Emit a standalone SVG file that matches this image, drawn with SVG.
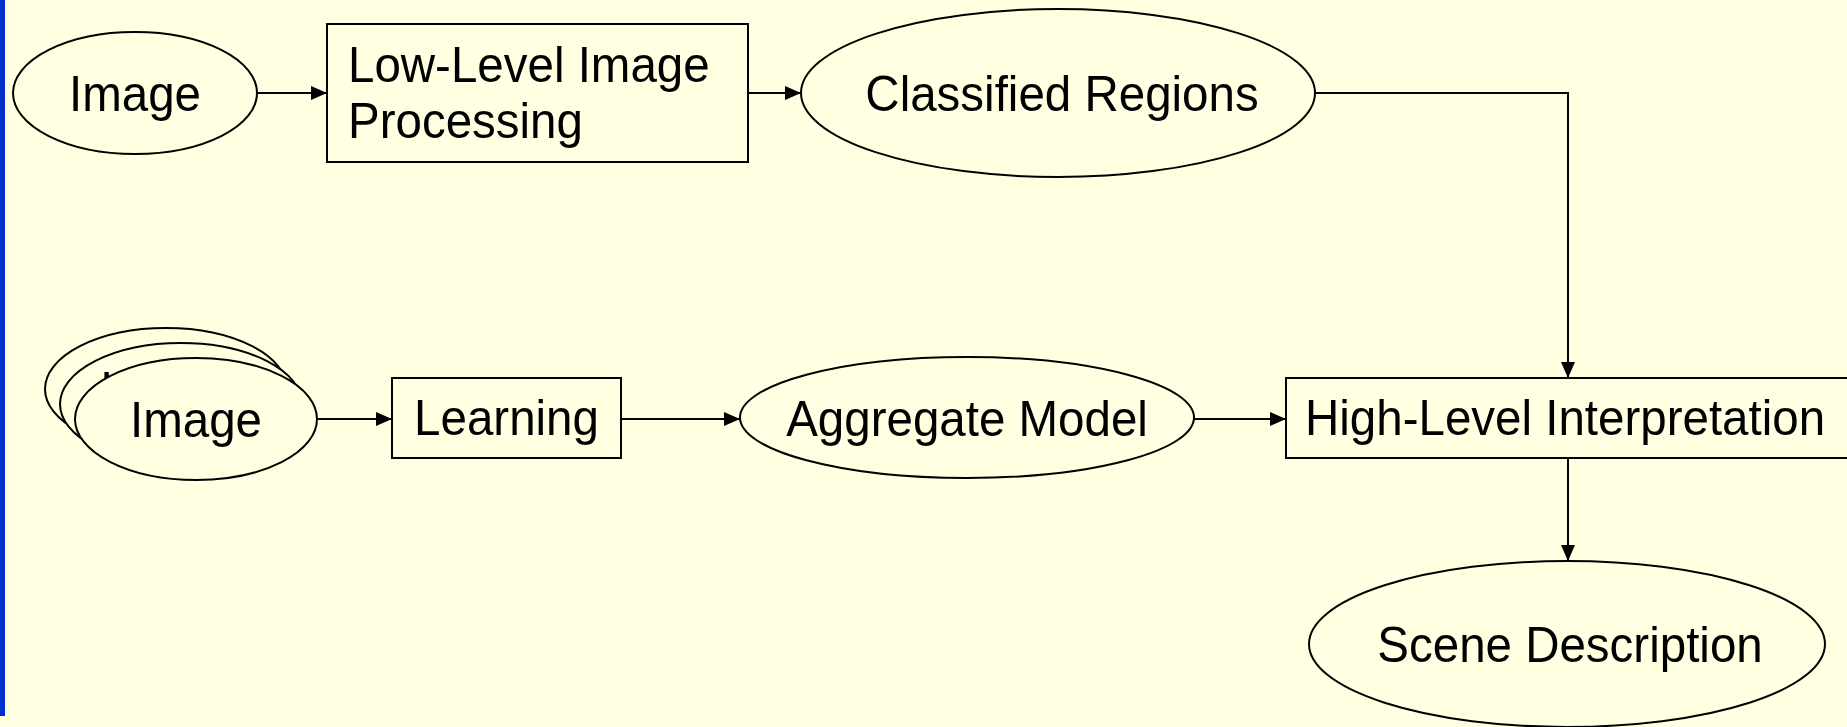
<svg xmlns="http://www.w3.org/2000/svg" width="1847" height="727" viewBox="0 0 1847 727">
  <defs>
    <marker id="arrow" markerUnits="userSpaceOnUse" markerWidth="16" markerHeight="14" refX="16" refY="7" orient="auto">
      <path d="M0,0 L16,7 L0,14 Z" fill="#000"/>
    </marker>
    <style>
      .shape{fill:#FFFFE1;stroke:#000;stroke-width:2}
      .label{font-family:"Liberation Sans",Arial,sans-serif;font-size:47.5px;fill:#000}
      .mid{text-anchor:middle}
      .conn{fill:none;stroke:#000;stroke-width:2;marker-end:url(#arrow)}
    </style>
  </defs>

  <!-- page background and left accent bar -->
  <rect x="0" y="0" width="1847" height="727" fill="#FFFFE1"/>
  <rect x="0" y="0" width="5" height="716" fill="#0030CC"/>

  <!-- connectors -->
  <g id="connectors">
    <path class="conn" d="M257,93 H327"/>
    <path class="conn" d="M748,93 H801"/>
    <path class="conn" d="M1315,93 H1568 V378"/>
    <path class="conn" d="M317,419 H392"/>
    <path class="conn" d="M621,419 H740"/>
    <path class="conn" d="M1194,419 H1286"/>
    <path class="conn" d="M1568,458 V561"/>
  </g>

  <!-- nodes; labels are slightly stretched vertically -->
  <g id="image-input">
    <ellipse class="shape" cx="135" cy="93" rx="122" ry="61"/>
    <text class="label mid" transform="translate(135,111) scale(1,1.06)">Image</text>
  </g>

  <g id="low-level-processing">
    <rect class="shape" x="327" y="24" width="421" height="138"/>
    <text class="label" transform="translate(348,82) scale(1,1.06)">Low-Level Image<tspan x="0" y="52.8">Processing</tspan></text>
  </g>

  <g id="classified-regions">
    <ellipse class="shape" cx="1058" cy="93" rx="257" ry="84"/>
    <text class="label mid" transform="translate(1062,111) scale(1,1.06)">Classified Regions</text>
  </g>

  <g id="training-images">
    <ellipse class="shape" cx="166" cy="389" rx="121" ry="61"/>
    <ellipse class="shape" cx="181" cy="404" rx="121" ry="61"/>
    <text class="label mid" transform="translate(166,407) scale(1,1.06)">Image</text>
    <ellipse class="shape" cx="196" cy="419" rx="121" ry="61"/>
    <text class="label mid" transform="translate(196,437) scale(1,1.06)">Image</text>
  </g>

  <g id="learning">
    <rect class="shape" x="392" y="378" width="229" height="80"/>
    <text class="label mid" transform="translate(506.5,435) scale(1,1.06)">Learning</text>
  </g>

  <g id="aggregate-model">
    <ellipse class="shape" cx="967" cy="417.5" rx="227" ry="60.5"/>
    <text class="label mid" transform="translate(967,436) scale(1,1.06)">Aggregate Model</text>
  </g>

  <g id="high-level-interpretation">
    <rect class="shape" x="1286" y="378" width="600" height="80"/>
    <text class="label" transform="translate(1305,435) scale(1,1.06)">High-Level Interpretation</text>
  </g>

  <g id="scene-description">
    <ellipse class="shape" cx="1567" cy="644" rx="258" ry="83"/>
    <text class="label mid" transform="translate(1570,662) scale(1,1.06)">Scene Description</text>
  </g>
</svg>
